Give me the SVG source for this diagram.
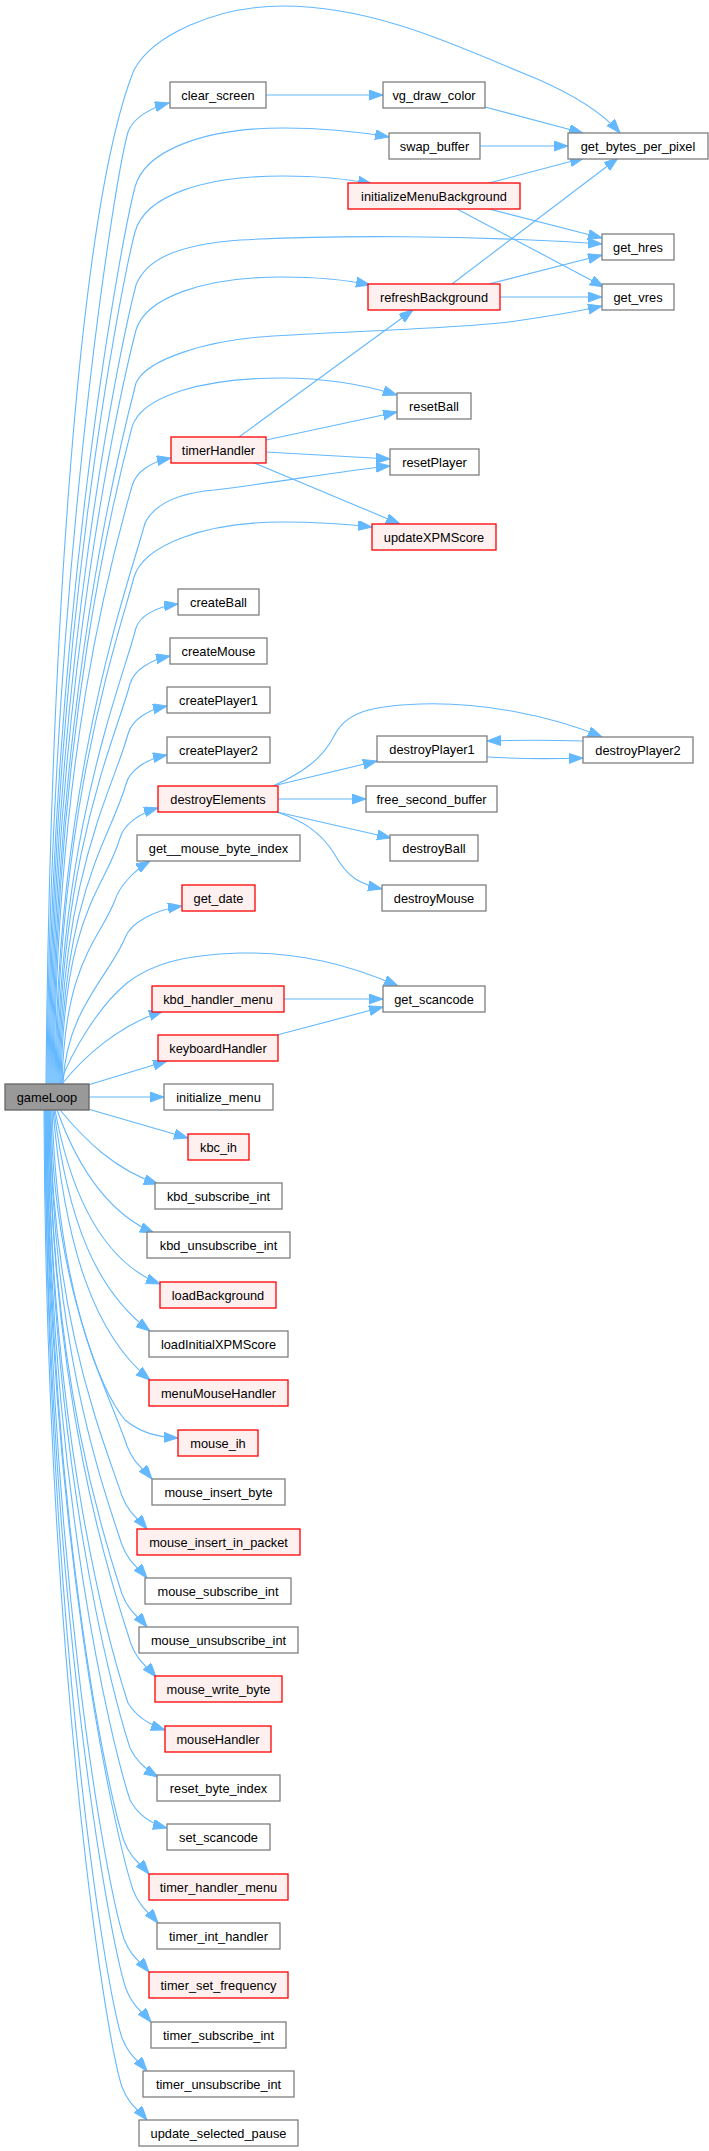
<svg xmlns="http://www.w3.org/2000/svg" width="709" height="2151" viewBox="0 0 709 2151">
<style>
.e{fill:none;stroke:#63B8FF;stroke-width:1.1;marker-end:url(#ah)}
.n rect{fill:#FFFFFF;stroke:#7F7F7F;stroke-width:1.3}
.r rect{fill:#FFF0F0;stroke:#FF0000;stroke-width:1.3}
.g rect{fill:#999999;stroke:#666666;stroke-width:1.3}
text{font-family:"Liberation Sans",Arial,sans-serif;font-size:12.8px;fill:#000;text-anchor:middle}
</style>
<defs>
<marker id="ah" markerUnits="userSpaceOnUse" markerWidth="16" markerHeight="12" refX="14" refY="5" orient="auto">
<path d="M0,0 L14,5 L0,10 z" fill="#63B8FF" stroke="#63B8FF" stroke-width="1"/>
</marker>
</defs>
<rect width="709" height="2151" fill="#FFFFFF"/>
<g id="edges">
<path class="e" d="M46,1084 C50,650 78,210 134,70 C152,36 215,6 283,6 C380,6 470,52 535,78 C572,94 602,112 620,133"/>
<path class="e" d="M47,1084 C50,600 112,190 128,132 C133,118 150,108 169,103"/>
<path class="e" d="M48,1084 C51,620 120,245 135,187 C145,150 205,128 283,128 C330,128 360,132 389,137"/>
<path class="e" d="M49,1084 C52,640 120,290 135,232 C145,195 205,176 283,176 C320,176 348,179 372,184"/>
<path class="e" d="M50,1084 C53,660 121,343 136,285 C146,260 175,245 240,240 C330,235 470,235 602,244"/>
<path class="e" d="M51,1084 C54,680 121,388 136,330 C146,297 205,277 282,277 C320,277 347,280 370,285"/>
<path class="e" d="M52,1084 C55,700 121,441 136,383 C146,360 205,340 273,336 C380,330 460,328 509,322 C545,317 575,312 602,306"/>
<path class="e" d="M53,1084 C56,720 117,485 132,427 C142,395 205,378 282,378 C330,378 365,385 397,395"/>
<path class="e" d="M54,1084 C57,740 116,544 132,486 C136,472 150,462 171,458"/>
<path class="e" d="M55,1084 C58,770 130,580 145,523 C155,503 180,493 214,490 C280,482 340,471 390,466"/>
<path class="e" d="M56,1084 C59,800 119,635 134,577 C144,545 205,522 282,522 C318,522 345,524 372,527"/>
<path class="e" d="M57,1084 C60,830 121,686 136,628 C140,616 155,607 178,604"/>
<path class="e" d="M58,1084 C61,850 115,740 130,684 C134,670 150,660 170,656"/>
<path class="e" d="M59,1084 C62,870 113,790 128,734 C132,720 147,710 167,706"/>
<path class="e" d="M60,1084 C63,890 111,838 126,784 C130,770 146,759 167,755"/>
<path class="e" d="M61,1084 C64,910 105,890 120,838 C124,824 140,813 158,808"/>
<path class="e" d="M62,1084 C65,960 100,940 115,900 C120,885 135,870 150,861"/>
<path class="e" d="M63,1084 C66,1010 110,975 125,938 C131,922 155,910 182,906"/>
<path class="e" d="M60,1084 C72,1050 100,1005 127,983 C150,965 180,955 240,953 C300,952 350,965 398,986"/>
<path class="e" d="M62,1084 C85,1055 120,1025 163,1011"/>
<path class="e" d="M88,1085 L167,1061"/>
<path class="e" d="M89,1097 L164,1097"/>
<path class="e" d="M88,1109 L188,1138"/>
<path class="e" d="M60,1110 C85,1140 115,1170 158,1184"/>
<path class="e" d="M57,1110 C75,1160 105,1212 154,1233"/>
<path class="e" d="M55,1110 C70,1190 100,1260 160,1284"/>
<path class="e" d="M54,1110 C68,1220 95,1290 150,1331"/>
<path class="e" d="M53,1110 C65,1250 95,1335 150,1380"/>
<path class="e" d="M52,1110 C58,1290 100,1390 125,1420 C140,1432 155,1437 178,1438"/>
<path class="e" d="M51,1110 C53,1295 109,1391 127,1446 C134,1464 143,1468 152,1479"/>
<path class="e" d="M50,1110 C52,1322 104,1441 122,1496 C129,1514 138,1518 147,1529"/>
<path class="e" d="M50,1110 C52,1349 104,1490 122,1545 C129,1563 138,1567 147,1578"/>
<path class="e" d="M49,1110 C51,1376 104,1539 122,1594 C129,1612 138,1616 147,1627"/>
<path class="e" d="M49,1110 C51,1404 113,1589 131,1644 C138,1662 147,1666 156,1677"/>
<path class="e" d="M48,1110 C50,1436 110,1648 128,1703 C136,1716 150,1725 165,1730"/>
<path class="e" d="M48,1110 C50,1461 112,1693 130,1748 C137,1763 148,1771 158,1777"/>
<path class="e" d="M47,1110 C49,1490 112,1745 130,1800 C138,1815 152,1824 167,1828"/>
<path class="e" d="M47,1110 C49,1512 106,1786 124,1841 C131,1859 140,1863 149,1874"/>
<path class="e" d="M46,1110 C48,1539 115,1835 133,1890 C140,1908 149,1912 158,1923"/>
<path class="e" d="M46,1110 C48,1566 106,1884 124,1939 C131,1957 140,1961 149,1972"/>
<path class="e" d="M45,1110 C47,1593 108,1934 126,1989 C133,2007 142,2011 151,2022"/>
<path class="e" d="M45,1110 C47,1620 104,1983 122,2038 C129,2056 138,2060 147,2071"/>
<path class="e" d="M44,1110 C46,1647 104,2032 122,2087 C129,2105 138,2109 147,2120"/>
<path class="e" d="M266,95 L383,95"/>
<path class="e" d="M485,107 L583,133"/>
<path class="e" d="M480,146 L568,146"/>
<path class="e" d="M489,183 L584,158"/>
<path class="e" d="M489,209 L602,238"/>
<path class="e" d="M457,209 L604,287"/>
<path class="e" d="M452,284 L618,158"/>
<path class="e" d="M489,284 L602,255"/>
<path class="e" d="M500,297 L602,297"/>
<path class="e" d="M239,437 L413,310"/>
<path class="e" d="M266,440 L397,412"/>
<path class="e" d="M266,452 L390,459"/>
<path class="e" d="M252,462 L400,524"/>
<path class="e" d="M277,785 L377,761"/>
<path class="e" d="M273,786 C300,774 322,760 334,736 C346,712 370,706 420,704 C480,702 550,715 602,737"/>
<path class="e" d="M487,757 C520,759 550,759 583,758"/>
<path class="e" d="M583,741 C550,740 520,740 487,741"/>
<path class="e" d="M278,799 L366,799"/>
<path class="e" d="M277,812 L391,838"/>
<path class="e" d="M277,812 C300,820 320,830 335,855 C348,878 360,884 382,889"/>
<path class="e" d="M284,999 L383,999"/>
<path class="e" d="M277,1035 L383,1007"/>
</g>
<g id="gameLoop" class="g"><rect x="5" y="1084" width="84" height="26"/><text x="47" y="1101.5">gameLoop</text></g>
<g id="clear_screen" class="n"><rect x="170" y="82" width="96" height="26"/><text x="218" y="99.5">clear_screen</text></g>
<g id="vg_draw_color" class="n"><rect x="383" y="82" width="102" height="26"/><text x="434" y="99.5">vg_draw_color</text></g>
<g id="swap_buffer" class="n"><rect x="389" y="133" width="91" height="26"/><text x="434.5" y="150.5">swap_buffer</text></g>
<g id="get_bytes_per_pixel" class="n"><rect x="568" y="133" width="140" height="26"/><text x="638" y="150.5">get_bytes_per_pixel</text></g>
<g id="initializeMenuBackground" class="r"><rect x="348" y="183" width="172" height="26"/><text x="434" y="200.5">initializeMenuBackground</text></g>
<g id="get_hres" class="n"><rect x="602" y="234" width="72" height="26"/><text x="638" y="251.5">get_hres</text></g>
<g id="refreshBackground" class="r"><rect x="368" y="284" width="132" height="26"/><text x="434" y="301.5">refreshBackground</text></g>
<g id="get_vres" class="n"><rect x="602" y="284" width="72" height="26"/><text x="638" y="301.5">get_vres</text></g>
<g id="resetBall" class="n"><rect x="397" y="393" width="74" height="26"/><text x="434" y="410.5">resetBall</text></g>
<g id="timerHandler" class="r"><rect x="171" y="437" width="95" height="26"/><text x="218.5" y="454.5">timerHandler</text></g>
<g id="resetPlayer" class="n"><rect x="390" y="449" width="89" height="26"/><text x="434.5" y="466.5">resetPlayer</text></g>
<g id="updateXPMScore" class="r"><rect x="372" y="524" width="124" height="26"/><text x="434" y="541.5">updateXPMScore</text></g>
<g id="createBall" class="n"><rect x="178" y="589" width="81" height="26"/><text x="218.5" y="606.5">createBall</text></g>
<g id="createMouse" class="n"><rect x="170" y="638" width="97" height="26"/><text x="218.5" y="655.5">createMouse</text></g>
<g id="createPlayer1" class="n"><rect x="167" y="687" width="103" height="26"/><text x="218.5" y="704.5">createPlayer1</text></g>
<g id="createPlayer2" class="n"><rect x="167" y="737" width="103" height="26"/><text x="218.5" y="754.5">createPlayer2</text></g>
<g id="destroyPlayer1" class="n"><rect x="377" y="736" width="110" height="26"/><text x="432" y="753.5">destroyPlayer1</text></g>
<g id="destroyPlayer2" class="n"><rect x="583" y="737" width="110" height="26"/><text x="638" y="754.5">destroyPlayer2</text></g>
<g id="destroyElements" class="r"><rect x="158" y="786" width="120" height="26"/><text x="218" y="803.5">destroyElements</text></g>
<g id="free_second_buffer" class="n"><rect x="366" y="786" width="131" height="26"/><text x="431.5" y="803.5">free_second_buffer</text></g>
<g id="get__mouse_byte_index" class="n"><rect x="137" y="835" width="163" height="26"/><text x="218.5" y="852.5">get__mouse_byte_index</text></g>
<g id="destroyBall" class="n"><rect x="390" y="835" width="88" height="26"/><text x="434" y="852.5">destroyBall</text></g>
<g id="get_date" class="r"><rect x="182" y="885" width="73" height="26"/><text x="218.5" y="902.5">get_date</text></g>
<g id="destroyMouse" class="n"><rect x="382" y="885" width="104" height="26"/><text x="434" y="902.5">destroyMouse</text></g>
<g id="kbd_handler_menu" class="r"><rect x="152" y="986" width="132" height="26"/><text x="218" y="1003.5">kbd_handler_menu</text></g>
<g id="get_scancode" class="n"><rect x="383" y="986" width="102" height="26"/><text x="434" y="1003.5">get_scancode</text></g>
<g id="keyboardHandler" class="r"><rect x="158" y="1035" width="120" height="26"/><text x="218" y="1052.5">keyboardHandler</text></g>
<g id="initialize_menu" class="n"><rect x="164" y="1084" width="109" height="26"/><text x="218.5" y="1101.5">initialize_menu</text></g>
<g id="kbc_ih" class="r"><rect x="188" y="1134" width="61" height="26"/><text x="218.5" y="1151.5">kbc_ih</text></g>
<g id="kbd_subscribe_int" class="n"><rect x="155" y="1183" width="127" height="26"/><text x="218.5" y="1200.5">kbd_subscribe_int</text></g>
<g id="kbd_unsubscribe_int" class="n"><rect x="147" y="1232" width="143" height="26"/><text x="218.5" y="1249.5">kbd_unsubscribe_int</text></g>
<g id="loadBackground" class="r"><rect x="160" y="1282" width="116" height="26"/><text x="218" y="1299.5">loadBackground</text></g>
<g id="loadInitialXPMScore" class="n"><rect x="149" y="1331" width="139" height="26"/><text x="218.5" y="1348.5">loadInitialXPMScore</text></g>
<g id="menuMouseHandler" class="r"><rect x="149" y="1380" width="139" height="26"/><text x="218.5" y="1397.5">menuMouseHandler</text></g>
<g id="mouse_ih" class="r"><rect x="178" y="1430" width="80" height="26"/><text x="218" y="1447.5">mouse_ih</text></g>
<g id="mouse_insert_byte" class="n"><rect x="152" y="1479" width="133" height="26"/><text x="218.5" y="1496.5">mouse_insert_byte</text></g>
<g id="mouse_insert_in_packet" class="r"><rect x="137" y="1529" width="163" height="26"/><text x="218.5" y="1546.5">mouse_insert_in_packet</text></g>
<g id="mouse_subscribe_int" class="n"><rect x="145" y="1578" width="146" height="26"/><text x="218" y="1595.5">mouse_subscribe_int</text></g>
<g id="mouse_unsubscribe_int" class="n"><rect x="139" y="1627" width="159" height="26"/><text x="218.5" y="1644.5">mouse_unsubscribe_int</text></g>
<g id="mouse_write_byte" class="r"><rect x="155" y="1676" width="127" height="26"/><text x="218.5" y="1693.5">mouse_write_byte</text></g>
<g id="mouseHandler" class="r"><rect x="165" y="1726" width="106" height="26"/><text x="218" y="1743.5">mouseHandler</text></g>
<g id="reset_byte_index" class="n"><rect x="157" y="1775" width="123" height="26"/><text x="218.5" y="1792.5">reset_byte_index</text></g>
<g id="set_scancode" class="n"><rect x="167" y="1824" width="103" height="26"/><text x="218.5" y="1841.5">set_scancode</text></g>
<g id="timer_handler_menu" class="r"><rect x="149" y="1874" width="139" height="26"/><text x="218.5" y="1891.5">timer_handler_menu</text></g>
<g id="timer_int_handler" class="n"><rect x="157" y="1923" width="123" height="26"/><text x="218.5" y="1940.5">timer_int_handler</text></g>
<g id="timer_set_frequency" class="r"><rect x="149" y="1972" width="139" height="26"/><text x="218.5" y="1989.5">timer_set_frequency</text></g>
<g id="timer_subscribe_int" class="n"><rect x="151" y="2022" width="135" height="26"/><text x="218.5" y="2039.5">timer_subscribe_int</text></g>
<g id="timer_unsubscribe_int" class="n"><rect x="143" y="2071" width="151" height="26"/><text x="218.5" y="2088.5">timer_unsubscribe_int</text></g>
<g id="update_selected_pause" class="n"><rect x="139" y="2120" width="159" height="26"/><text x="218.5" y="2137.5">update_selected_pause</text></g>
</svg>
